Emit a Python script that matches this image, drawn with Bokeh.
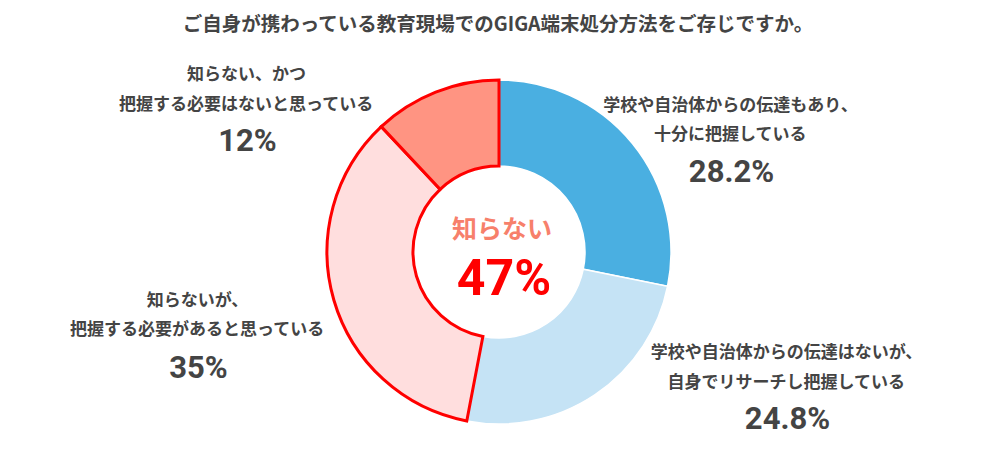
import math
from bokeh.plotting import figure
from bokeh.models import Range1d
from bokeh.core.properties import value
from bokeh.embed import file_html
from bokeh.resources import INLINE

# ---- data ----
title_text = "ご自身が携わっている教育現場でのGIGA端末処分方法をご存じですか。"
categories = [
    "学校や自治体からの伝達もあり、\n十分に把握している",
    "学校や自治体からの伝達はないが、\n自身でリサーチし把握している",
    "知らないが、\n把握する必要があると思っている",
    "知らない、かつ\n把握する必要はないと思っている",
]
values = [28.2, 24.8, 35.0, 12.0]
pct_labels = ["28.2%", "24.8%", "35%", "12%"]
center_label = "知らない"
center_value = "47%"

colors = ["#4AAFE1", "#C5E3F5", "#FFDEDE", "#FF9482"]
line_colors = ["#FFFFFF", "#FFFFFF", "#FF0000", "#FF0000"]
line_widths = [1.5, 1.5, 3.0, 3.0]

W, H = 982, 448


def Y(py):
    return 464 - py


p = figure(width=W, height=H, output_backend="svg", toolbar_location=None,
           x_range=Range1d(0, W), y_range=Range1d(464 - H, 464),
           min_border=0, tools="")
p.axis.visible = False
p.grid.visible = False
p.outline_line_color = None
p.background_fill_color = "white"
p.border_fill_color = "white"

cx, cy = 498.5, Y(251.5)
r_in, r_out = 86, 172

total = sum(values)
starts, ends = [], []
cum = 0.0
for v in values:
    starts.append(math.pi / 2 - 2 * math.pi * cum / total)
    cum += v
    ends.append(math.pi / 2 - 2 * math.pi * cum / total)

for i in [0, 1, 2, 3]:
    p.annular_wedge(x=cx, y=cy, inner_radius=r_in, outer_radius=r_out,
                    start_angle=starts[i], end_angle=ends[i], direction="clock",
                    fill_color=colors[i], line_color=line_colors[i],
                    line_width=line_widths[i], line_join="miter")

JP = value("Noto Sans CJK JP")
NUM = value("Roboto")
txt_color = "#444444"

# title
p.text(x=[498], y=[Y(22)], text=[title_text], text_font=JP, text_font_size="19.5px",
       text_font_style="bold", text_color=txt_color, text_align="center",
       text_baseline="middle")

label_pos = [
    (730, 103, 132, 171),
    (786, 350, 380, 418),
    (197, 298, 327, 367),
    (246, 72, 102, 140),
]
for i, (lx, y1, y2, y3) in enumerate(label_pos):
    l1, l2 = categories[i].split("\n")
    p.text(x=[lx, lx], y=[Y(y1), Y(y2)], text=[l1, l2], text_font=JP,
           text_font_size="17px", text_font_style="bold", text_color=txt_color,
           text_align="center", text_baseline="middle")
    p.text(x=[lx + 1], y=[Y(y3)], text=[pct_labels[i]], text_font=NUM,
           text_font_size="31px", text_font_style="bold", text_color=txt_color,
           text_align="center", text_baseline="middle")

# center text
p.text(x=[cx + 3], y=[Y(226)], text=[center_label], text_font=JP, text_font_size="25px",
       text_font_style="bold", text_color="#F7806B", text_align="center",
       text_baseline="middle")
p.text(x=[cx + 5], y=[Y(277)], text=[center_value], text_font=NUM, text_font_size="50px",
       text_font_style="bold", text_color="#FF0000", text_align="center",
       text_baseline="middle")

open("out.html", "w").write(file_html(p, INLINE))
